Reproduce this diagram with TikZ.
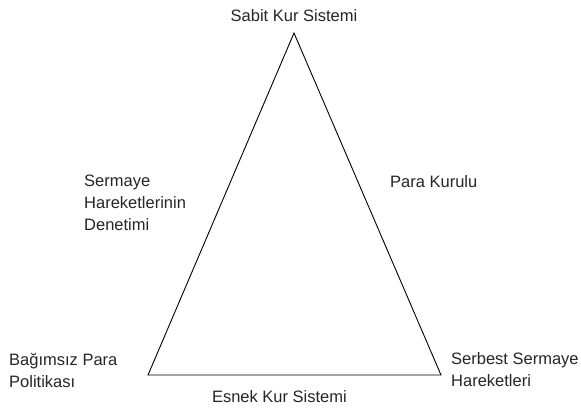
\documentclass[tikz,border=0pt]{standalone}
\usepackage{fontspec}
\setmainfont{Liberation Sans}
\begin{document}
\begin{tikzpicture}[x=1pt,y=-1pt,
  lbl/.style={inner sep=0pt,font=\fontsize{16.5}{22}\selectfont,align=left,text=black!85},
  edge/.style={draw=black,line width=0.9pt,line join=miter}]
\useasboundingbox[fill=white] (0,0) rectangle (581,410);
\coordinate (top) at (294,33);
\coordinate (bl) at (148,375);
\coordinate (br) at (441,375);
\draw[edge] (top) -- (br) -- (bl) -- cycle;
\node[lbl] (sabit) at (294,15.5) {Sabit Kur Sistemi};
\node[lbl,anchor=west] (para) at (390,182) {Para Kurulu};
\node[lbl,anchor=west] (denetim) at (84,202.5) {Sermaye\\Hareketlerinin\\Denetimi};
\node[lbl,anchor=west] (bagimsiz) at (9,370) {Bağımsız Para\\Politikası};
\node[lbl,anchor=west] (serbest) at (451,370) {Serbest Sermaye\\Hareketleri};
\node[lbl,anchor=east] (esnek) at (347,397) {Esnek Kur Sistemi};
\end{tikzpicture}
\end{document}
